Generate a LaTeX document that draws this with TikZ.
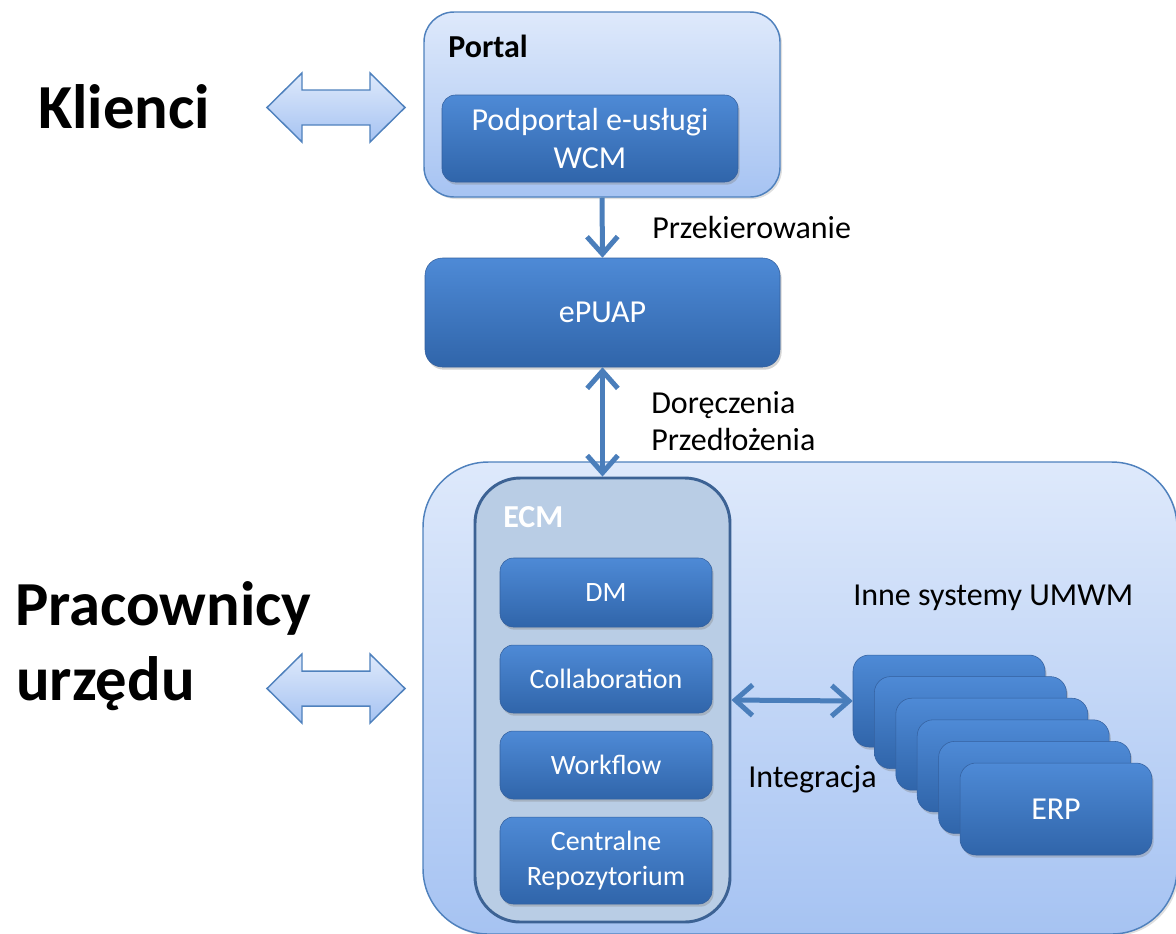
\documentclass[tikz,border=0pt]{standalone}
\usepackage{fontspec}
\setmainfont{Carlito}
\usetikzlibrary{arrows.meta,shadows}
\definecolor{lighttop}{RGB}{222,233,251}
\definecolor{lightbot}{RGB}{166,195,242}
\definecolor{lineblue}{RGB}{79,129,189}
\definecolor{darktop}{RGB}{78,138,214}
\definecolor{darkbot}{RGB}{48,101,170}
\definecolor{darkedge}{RGB}{52,96,158}
\definecolor{ecmfill}{RGB}{185,205,229}
\definecolor{ecmedge}{RGB}{60,98,148}
\definecolor{connblue}{RGB}{74,126,187}
\tikzset{
  lightbox/.style={draw=lineblue, line width=1.1pt, rounded corners=22.5pt,
    top color=lighttop, bottom color=lightbot,
    drop shadow={shadow xshift=1.5pt, shadow yshift=-1.5pt, opacity=0.25}},
  darkbox/.style={draw=darkedge, line width=0.4pt, rounded corners=10pt,
    top color=darktop, bottom color=darkbot, text=white, align=center,
    inner sep=0pt, font=\fontsize{24}{28.5}\selectfont,
    drop shadow={shadow xshift=1.2pt, shadow yshift=-2pt, opacity=0.35}},
  subbox/.style={darkbox, minimum width=159pt, font=\fontsize{21}{26.25}\selectfont},
  erpbox/.style={darkbox, minimum width=144pt, minimum height=69pt, rounded corners=12pt},
  ecmbox/.style={draw=ecmedge, line width=2.2pt, fill=ecmfill, rounded corners=34pt},
  conn/.style={draw=connblue, line width=3.75pt,
    {Straight Barb[length=13pt,width=23pt]}-{Straight Barb[length=13pt,width=23pt]}},
  conndown/.style={draw=connblue, line width=3.75pt,
    -{Straight Barb[length=13pt,width=23pt]}},
  lbl/.style={font=\fontsize{24}{28}\selectfont, anchor=base west, inner sep=0pt},
  bigtext/.style={font=\bfseries\fontsize{47}{56}\selectfont, anchor=base west, inner sep=0pt},
  barrow/.style={draw=lineblue, line width=1.1pt, top color=lighttop, bottom color=lightbot},
  blockarrow/.pic={
    \path[barrow] (-69,0) -- (-34,-34.5) -- (-34,-17.5) -- (34,-17.5) -- (34,-34.5)
      -- (69,0) -- (34,34.5) -- (34,17.5) -- (-34,17.5) -- (-34,34.5) -- cycle;
  }
}
\begin{document}
\begin{tikzpicture}[x=0.75pt,y=-0.75pt]
\path[use as bounding box] (0,0) rectangle (1176,933);
\begin{scope}
\clip (0,0) rectangle (1176,933);
% left labels and block arrows
\node[bigtext] (klienci) at (38,128) {Klienci};
\node[bigtext] (pracownicy) at (15,625) {Pracownicy};
\node[bigtext] (urzedu) at (16,700) {urzędu};
\pic at (336,107.5) {blockarrow};
\pic at (336,688.5) {blockarrow};
% portal
\node[lightbox, minimum width=267pt, minimum height=138.75pt] (portal) at (602,104.5) {};
\node[lbl, font=\bfseries\fontsize{24}{28}\selectfont] (portallbl) at (448,57) {Portal};
\node[darkbox, minimum width=222pt, minimum height=65.25pt] (podportal) at (590,138.5) {Podportal e-usługi\\WCM};
% ePUAP
\node[darkbox, rounded corners=13pt, minimum width=266.25pt, minimum height=81.75pt] (epuap) at (602.5,312.5) {ePUAP};
% outer office box
\node[lightbox, rounded corners=49pt, minimum width=565.5pt, minimum height=354pt] (umwm) at (800,698) {};
% ECM
\node[ecmbox, minimum width=191.25pt, minimum height=333pt] (ecm) at (602.5,700) {};
\node[lbl, text=white, font=\bfseries\fontsize{24}{28}\selectfont] (ecmlbl) at (503,527) {ECM};
\node[subbox, minimum height=51.75pt] (dm) at (606,592.5) {DM};
\node[subbox, minimum height=51pt] (collab) at (606,679) {Collaboration};
\node[subbox, minimum height=51pt] (workflow) at (606,765) {Workflow};
\node[subbox, minimum height=65.25pt] (repo) at (606,860.5) {Centralne\\Repozytorium};
% other systems
\node[lbl] (inne) at (853,605) {Inne systemy UMWM};
\node[erpbox] (s1) at (949,701) {};
\node[erpbox] (s2) at (970.4,722.6) {};
\node[erpbox] (s3) at (991.8,744.2) {};
\node[erpbox] (s4) at (1013.2,765.8) {};
\node[erpbox] (s5) at (1034.6,787.4) {};
\node[erpbox] (erp) at (1056,809) {ERP};
% connectors
\draw[conndown] (portal.south) -- (epuap.north);
\draw[conn] (epuap.south) -- (ecm.north);
\draw[conn] (ecm.east) -- (s1.west);
% connector labels
\node[lbl] (przek) at (652,238) {Przekierowanie};
\node[lbl] (dor) at (651,413) {Doręczenia};
\node[lbl] (przed) at (651,450) {Przedłożenia};
\node[lbl] (integ) at (748,787) {Integracja};
\end{scope}
\end{tikzpicture}
\end{document}
